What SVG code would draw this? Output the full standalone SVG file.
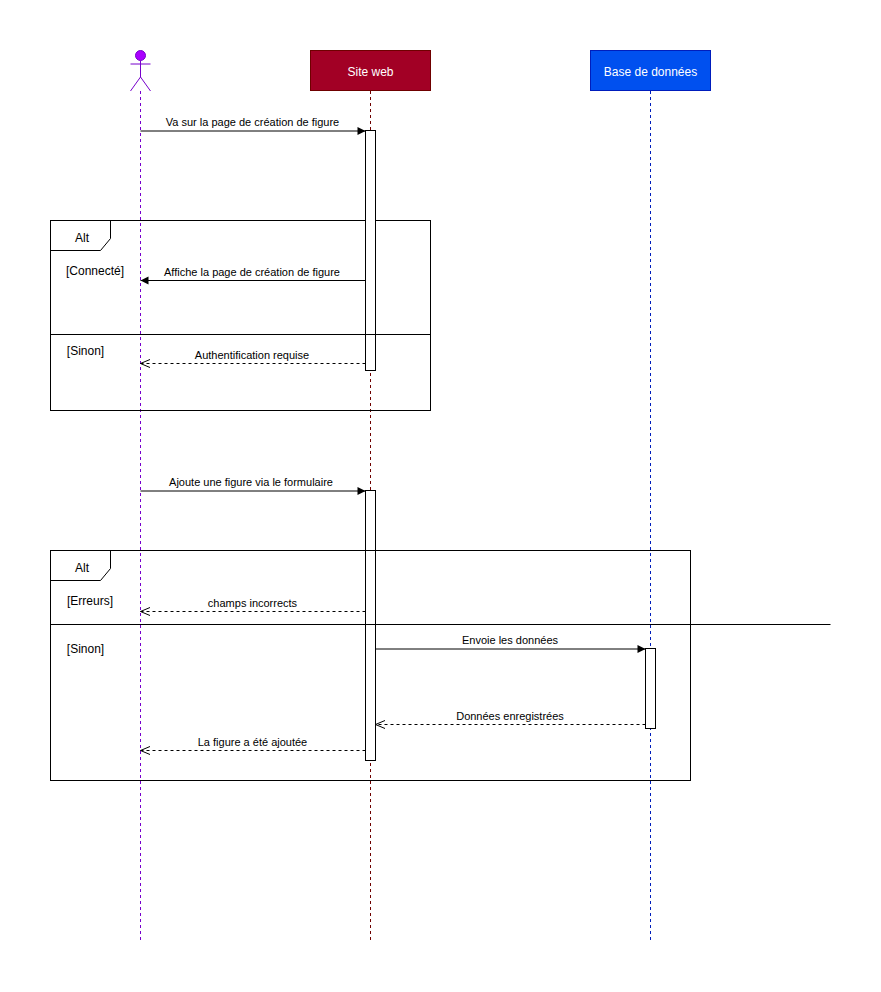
<svg xmlns="http://www.w3.org/2000/svg" width="881" height="992" viewBox="0 0 881 992">
<style>
text{font-family:"Liberation Sans",Arial,sans-serif;fill:#000;text-anchor:middle}
.m{font-size:11px}
.l{font-size:12px}
.s{fill:#fff;stroke:#000;stroke-width:1}
.f{fill:none;stroke:#000;stroke-width:1}
.d{fill:none;stroke:#000;stroke-width:1;stroke-dasharray:3 3}
.life{fill:none;stroke-width:1;stroke-dasharray:3 3}
</style>
<defs>
<marker id="fill" markerUnits="userSpaceOnUse" markerWidth="10" markerHeight="10" refX="8.500" refY="5" orient="auto"><path d="M0.500 1L8.500 5L0.500 9Z" fill="#000"/></marker>
<marker id="open" markerUnits="userSpaceOnUse" markerWidth="11" markerHeight="11" refX="10" refY="5.500" orient="auto"><path d="M0.500 1.500L10 5.500L0.500 9.500" fill="none" stroke="#000" stroke-width="1"/></marker>
</defs>
<rect width="881" height="992" fill="#fff"/>
<g id="lifelines">
<path class="life" stroke="#7700cc" d="M140.500 91V940"/>
<path class="life" stroke="#6f0000" d="M370.500 91V940"/>
<path class="life" stroke="#001dbc" d="M650.500 91V940"/>
</g>
<g id="actor" fill="none" stroke="#7700cc">
<circle cx="140.500" cy="55.500" r="5" fill="#aa00ff"/>
<path d="M140.500 60.500V77M130.500 64H150.500M130.500 91L140.500 77L150.500 91"/>
</g>
<g id="site-web"><rect x="310.500" y="50.500" width="120" height="40" fill="#a20025" stroke="#6f0000"/><text class="l" x="370.500" y="75.500" style="fill:#fff">Site web</text></g>
<g id="base-de-donnees"><rect x="590.500" y="50.500" width="120" height="40" fill="#0050ef" stroke="#001dbc"/><text class="l" x="650.500" y="75.500" style="fill:#fff">Base de données</text></g>
<g id="alt-1">
<rect x="50.500" y="220.500" width="380" height="190" class="f"/>
<path class="f" d="M50.500 250.500H100.500L110.500 238.500V220.500M50.500 334.500H430.500"/>
<text class="l" x="82" y="241.500">Alt</text>
<text class="l" x="95" y="275">[Connecté]</text>
<text class="l" x="85.500" y="355">[Sinon]</text>
</g>
<g id="alt-2">
<rect x="50.500" y="550.500" width="640" height="230" class="f"/>
<path class="f" d="M50.500 580.500H100.500L110.500 568.500V550.500M50.500 624.500H830.500"/>
<text class="l" x="82" y="571.500">Alt</text>
<text class="l" x="90" y="605">[Erreurs]</text>
<text class="l" x="85.500" y="653">[Sinon]</text>
</g>
<g id="activations">
<rect class="s" x="365.500" y="130.500" width="10" height="240"/>
<rect class="s" x="365.500" y="490.500" width="10" height="270"/>
<rect class="s" x="645.500" y="648.500" width="10" height="80"/>
</g>
<path class="f" d="M365.500 334.500H375.500M365.500 550.500H375.500M365.500 624.500H375.500"/>
<g id="connectors">
<path class="f" marker-end="url(#fill)" d="M140.500 131H365.500"/>
<path class="f" marker-end="url(#fill)" d="M365.500 280.500H140.500"/>
<path class="d" marker-end="url(#open)" d="M365.500 363.500H140.500"/>
<path class="f" marker-end="url(#fill)" d="M140.500 491H365.500"/>
<path class="d" marker-end="url(#open)" d="M365.500 611.500H140.500"/>
<path class="f" marker-end="url(#fill)" d="M375.500 649H645.500"/>
<path class="d" marker-end="url(#open)" d="M645.500 724.500H375.500"/>
<path class="d" marker-end="url(#open)" d="M365.500 750.500H140.500"/>
</g>
<g id="labels">
<text class="m" x="252.500" y="126">Va sur la page de création de figure</text>
<text class="m" x="252" y="276">Affiche la page de création de figure</text>
<text class="m" x="252" y="359">Authentification requise</text>
<text class="m" x="251" y="486">Ajoute une figure via le formulaire</text>
<text class="m" x="252.500" y="607">champs incorrects</text>
<text class="m" x="510" y="644">Envoie les données</text>
<text class="m" x="510" y="720">Données enregistrées</text>
<text class="m" x="252.500" y="746">La figure a été ajoutée</text>
</g>
</svg>
